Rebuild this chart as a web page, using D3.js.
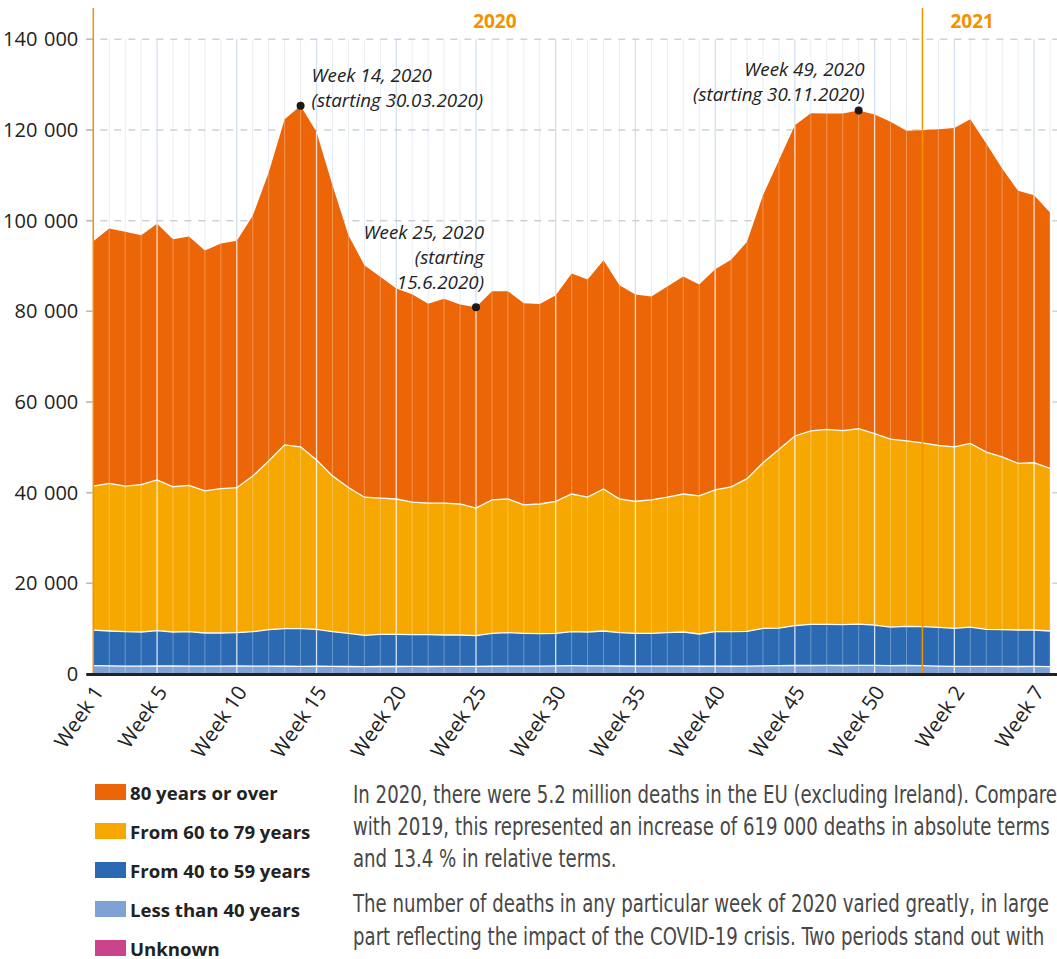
<!DOCTYPE html>
<html>
<head>
<meta charset="utf-8">
<script src="https://cdn.jsdelivr.net/npm/d3@7"></script>
<style>
  body { margin: 0; background: #fff; }
  svg { display: block; font-family: "Open Sans", "Noto Sans", sans-serif; }
</style>
</head>
<body>
<div id="wrapper"></div>
<script>
// weeks shown on the x axis (2020 has 53 weeks, then 8 weeks of 2021)
const weeks2020 = [1, 2, 3, 4, 5, 6, 7, 8, 9, 10, 11, 12, 13, 14, 15, 16, 17, 18, 19, 20,
  21, 22, 23, 24, 25, 26, 27, 28, 29, 30, 31, 32, 33, 34, 35, 36, 37, 38, 39, 40,
  41, 42, 43, 44, 45, 46, 47, 48, 49, 50, 51, 52, 53];
const weeks2021 = [1, 2, 3, 4, 5, 6, 7, 8];

const tickWeeks = ["2020-1", "2020-5", "2020-10", "2020-15", "2020-20", "2020-25", "2020-30",
  "2020-35", "2020-40", "2020-45", "2020-50", "2021-2", "2021-7"];
const yTicks = [0, 20000, 40000, 60000, 80000, 100000, 120000, 140000];

// deaths per week by age group
const over80 = [54030, 56220, 56090, 55050, 56500, 54600, 54900, 53000, 54070, 54450,
  57410, 63620, 71830, 75220, 72380, 64120, 55650, 51180, 48800, 46440,
  45890, 43950, 45060, 44020, 44320, 46050, 45850, 44500, 44090, 45470,
  48650, 48030, 50490, 47170, 45620, 44880, 46490, 47990, 46630, 48700,
  50060, 52230, 59020, 63840, 68560, 70050, 69680, 69930, 70190, 70410,
  69990, 68410, 68960,
  69770, 70360, 71530, 68050, 63610, 60120, 59020, 56450];
const from60to79 = [31750, 32570, 32120, 32490, 33250, 32040, 32270, 31360, 31860, 31990,
  34320, 37230, 40560, 40110, 37350, 34370, 32180, 30470, 30050, 29850,
  29220, 29020, 29100, 28900, 28150, 29430, 29490, 28330, 28600, 29130,
  30370, 29740, 31320, 29490, 29130, 29430, 29890, 30440, 30480, 31270,
  31970, 33700, 36530, 39360, 41850, 42700, 43000, 42830, 43080, 42200,
  41440, 40890, 40570,
  40110, 40030, 40490, 39100, 38130, 36750, 36900, 35870];
const from40to59 = [7870, 7670, 7580, 7530, 7760, 7490, 7580, 7310, 7310, 7330,
  7580, 8040, 8280, 8300, 8140, 7660, 7320, 6900, 7100, 7100,
  7010, 7030, 6940, 6930, 6770, 7260, 7380, 7250, 7150, 7180,
  7500, 7450, 7690, 7340, 7220, 7240, 7390, 7530, 7110, 7600,
  7620, 7650, 8260, 8310, 8780, 9070, 9060, 9000, 9120, 8910,
  8510, 8640, 8590,
  8560, 8400, 8680, 8160, 8100, 8050, 8040, 7850];
const under40 = [1800, 1780, 1720, 1700, 1760, 1740, 1720, 1700, 1700, 1750,
  1720, 1700, 1680, 1660, 1680, 1640, 1620, 1600, 1620, 1620,
  1640, 1620, 1630, 1640, 1650, 1680, 1700, 1690, 1720, 1760,
  1800, 1780, 1760, 1740, 1720, 1700, 1690, 1700, 1680, 1700,
  1680, 1720, 1780, 1800, 1840, 1850, 1860, 1840, 1870, 1860,
  1820, 1840, 1810,
  1700, 1640, 1650, 1660, 1640, 1620, 1630, 1600];
const unknown = [30, 30, 30, 30, 30, 30, 30, 30, 30, 30,
  30, 30, 30, 30, 30, 30, 30, 30, 30, 30,
  30, 30, 30, 30, 30, 30, 30, 30, 30, 30,
  30, 30, 30, 30, 30, 30, 30, 30, 30, 30,
  30, 30, 30, 30, 30, 30, 30, 30, 30, 30,
  30, 30, 30,
  30, 30, 30, 30, 30, 30, 30, 30];

const seriesNames = ["80 years or over", "From 60 to 79 years", "From 40 to 59 years",
  "Less than 40 years", "Unknown"];
const seriesColors = ["#ec6608", "#f6a800", "#2b6ab2", "#7fa2d6", "#c9448b"];

const annotations = [
  { week: "2020-14", lines: ["Week 14, 2020", "(starting 30.03.2020)"] },
  { week: "2020-25", lines: ["Week 25, 2020", "(starting", "15.6.2020)"] },
  { week: "2020-49", lines: ["Week 49, 2020", "(starting 30.11.2020)"] },
];

const paragraphs = [
  ["In 2020, there were 5.2 million deaths in the EU (excluding Ireland). Compared",
   "with 2019, this represented an increase of 619 000 deaths in absolute terms",
   "and 13.4 % in relative terms."],
  ["The number of deaths in any particular week of 2020 varied greatly, in large",
   "part reflecting the impact of the COVID-19 crisis. Two periods stand out with"],
];

function drawChart() {
  // 1. Data
  const categories = [
    ...weeks2020.map((w) => `2020-${w}`),
    ...weeks2021.map((w) => `2021-${w}`),
  ];
  const keys = ["unknown", "under40", "from40to59", "from60to79", "over80"];
  const columns = { over80, from60to79, from40to59, under40, unknown };
  const dataset = categories.map((c, i) => {
    const row = { week: c };
    keys.forEach((k) => (row[k] = columns[k][i]));
    return row;
  });
  const colorOf = {
    over80: seriesColors[0], from60to79: seriesColors[1], from40to59: seriesColors[2],
    under40: seriesColors[3], unknown: seriesColors[4],
  };
  const stacked = d3.stack().keys(keys)(dataset);
  const totalAccessor = (d) => keys.reduce((s, k) => s + d[k], 0);

  // 2. Dimensions
  const dimensions = {
    width: 1057,
    height: 959,
    plotLeft: 93.3,
    plotRight: 1050,
    plotBottom: 674,
    plotTop: 39.3,
  };

  // 3. Canvas
  const wrapper = d3.select("#wrapper").append("svg")
    .attr("width", dimensions.width)
    .attr("height", dimensions.height);
  wrapper.append("rect").attr("width", dimensions.width).attr("height", dimensions.height)
    .attr("fill", "#fff");

  // 4. Scales
  const xScale = d3.scalePoint().domain(categories)
    .range([dimensions.plotLeft, dimensions.plotRight]);
  const yScale = d3.scaleLinear().domain([0, 140000])
    .range([dimensions.plotBottom, dimensions.plotTop]);

  // background grid: week lines + dashed value lines
  const isTick = (c) => tickWeeks.includes(c);
  wrapper.append("g").selectAll("line").data(categories).join("line")
    .attr("x1", (d) => xScale(d)).attr("x2", (d) => xScale(d))
    .attr("y1", yScale(140000)).attr("y2", dimensions.plotBottom)
    .attr("stroke", (d) => (isTick(d) ? "#d3e0f0" : "#e6edf6"))
    .attr("stroke-width", (d) => (isTick(d) ? 1.3 : 1));

  const yAxis = wrapper.append("g")
    .attr("transform", `translate(${dimensions.plotLeft - 7},0)`)
    .call(d3.axisLeft(yScale).tickValues(yTicks).tickSize(0).tickPadding(8)
      .tickFormat((d) => d3.format(",")(d).replace(/,/g, "\u2009\u2009")));
  yAxis.select(".domain").remove();
  yAxis.selectAll("text").attr("font-size", 20).attr("fill", "#222")
    .attr("font-family", "'Open Sans', sans-serif");

  wrapper.append("g").selectAll("line").data(yTicks.filter((d) => d > 0)).join("line")
    .attr("x1", dimensions.plotLeft - 7).attr("x2", dimensions.width)
    .attr("y1", (d) => yScale(d)).attr("y2", (d) => yScale(d))
    .attr("stroke", "#cdd1d6").attr("stroke-width", 1.5)
    .attr("stroke-dasharray", "7 7");
  wrapper.append("g").selectAll("line").data(yTicks).join("line")
    .attr("x1", dimensions.plotLeft - 7).attr("x2", dimensions.plotLeft)
    .attr("y1", (d) => yScale(d)).attr("y2", (d) => yScale(d))
    .attr("stroke", "#bbb").attr("stroke-width", 1.5);

  // 5. Areas
  const areaGenerator = d3.area()
    .x((d) => xScale(d.data.week))
    .y0((d) => yScale(d[0]))
    .y1((d) => yScale(d[1]));
  const lineGenerator = d3.line()
    .x((d) => xScale(d.data.week))
    .y((d) => yScale(d[1]));

  const layers = wrapper.append("g");
  layers.selectAll("path.area").data(stacked).join("path")
    .attr("class", "area")
    .attr("d", areaGenerator)
    .attr("fill", (d) => colorOf[d.key]);
  layers.selectAll("path.edge").data(stacked.filter((s) => s.key !== "over80")).join("path")
    .attr("class", "edge")
    .attr("d", lineGenerator)
    .attr("fill", "none")
    .attr("stroke", "#fff")
    .attr("stroke-width", 1.3);

  // week lines over the areas
  wrapper.append("g").selectAll("line").data(dataset).join("line")
    .attr("x1", (d) => xScale(d.week)).attr("x2", (d) => xScale(d.week))
    .attr("y1", (d) => yScale(totalAccessor(d))).attr("y2", dimensions.plotBottom)
    .attr("stroke", "#fff")
    .attr("stroke-opacity", (d) => (isTick(d.week) ? 0.8 : 0.3))
    .attr("stroke-width", (d) => (isTick(d.week) ? 1.3 : 1));

  // year separators
  const yearLines = ["2020-1", "2020-53"];
  wrapper.append("g").selectAll("line").data(yearLines).join("line")
    .attr("x1", (d) => xScale(d)).attr("x2", (d) => xScale(d))
    .attr("y1", 8).attr("y2", dimensions.plotBottom)
    .attr("stroke", "#f39200").attr("stroke-width", 1.5);

  wrapper.append("g").selectAll("text")
    .data([{ label: "2020", from: "2020-1", to: "2020-53" }, { label: "2021", from: "2020-53", to: "2021-8" }])
    .join("text")
    .attr("x", (d) => (xScale(d.from) + xScale(d.to)) / 2 + (d.label === "2021" ? -14 : -13))
    .attr("y", 28)
    .attr("text-anchor", "middle")
    .attr("font-size", 19).attr("font-weight", 700).attr("fill", "#f39200")
    .text((d) => d.label);

  // x axis
  wrapper.append("line")
    .attr("x1", dimensions.plotLeft - 7).attr("x2", dimensions.width)
    .attr("y1", dimensions.plotBottom + 0.5).attr("y2", dimensions.plotBottom + 0.5)
    .attr("stroke", "#222").attr("stroke-width", 3);

  wrapper.append("g").selectAll("text").data(tickWeeks).join("text")
    .attr("transform", (d) => `translate(${xScale(d) + 11},${dimensions.plotBottom + 18}) rotate(-56)`)
    .attr("text-anchor", "end")
    .attr("font-size", 20.5).attr("fill", "#222")
    .text((d) => `Week ${d.split("-")[1]}`);

  // 6. Annotations
  const rowOf = (w) => dataset.find((d) => d.week === w);
  const noteLayout = {
    "2020-14": { dx: 11, dy: [-24, 1], anchor: "start" },
    "2020-25": { dx: 8, dy: [-68, -43, -18], anchor: "end" },
    "2020-49": { dx: 6, dy: [-35, -10], anchor: "end" },
  };
  const notes = wrapper.append("g").selectAll("g").data(annotations).join("g")
    .attr("transform", (d) => `translate(${xScale(d.week)},${yScale(totalAccessor(rowOf(d.week)))})`);
  notes.append("circle").attr("r", 4).attr("fill", "#1a1a1a");
  notes.each(function (d) {
    const lay = noteLayout[d.week];
    d3.select(this).selectAll("text").data(d.lines).join("text")
      .attr("x", lay.dx)
      .attr("y", (t, i) => lay.dy[i])
      .attr("text-anchor", lay.anchor)
      .attr("font-size", 18.8).attr("font-style", "italic").attr("fill", "#222")
      .text((t) => t);
  });

  // 7. Legend
  const legend = wrapper.append("g").selectAll("g").data(seriesNames).join("g")
    .attr("transform", (d, i) => `translate(95,${784 + i * 39})`);
  legend.append("rect").attr("width", 31).attr("height", 16)
    .attr("fill", (d, i) => seriesColors[i]);
  legend.append("text").attr("x", 35).attr("y", 15.5)
    .attr("font-size", 18.6).attr("font-weight", 700).attr("fill", "#222")
    .text((d) => d);

  // 8. Body text (clipped at the right edge, as in the source page)
  const body = wrapper.append("g")
    .style("font-family", "'Liberation Sans Narrow', 'DejaVu Sans Condensed', sans-serif");
  const lineY = [[803, 835, 867], [912, 945]];
  paragraphs.forEach((p, pi) => {
    p.forEach((line, li) => {
      body.append("text").attr("x", 0).attr("y", lineY[pi][li])
        .attr("font-size", 24).attr("fill", "#474747").text(line);
    });
  });
  const ref = body.selectAll("text").nodes()[1].getComputedTextLength();
  const k = 697 / ref;
  body.attr("transform", `translate(353,0) scale(${k},1)`);
}
drawChart();
</script>
</body>
</html>
